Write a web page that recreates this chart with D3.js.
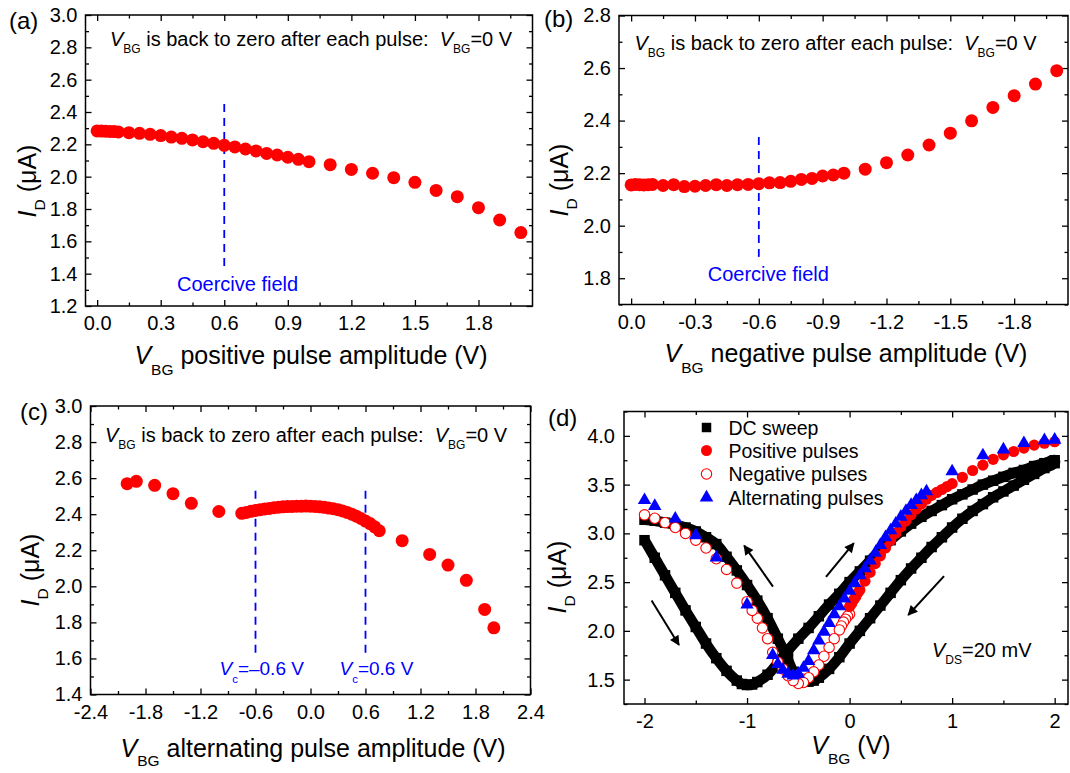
<!DOCTYPE html>
<html>
<head>
<meta charset="utf-8">
<script src="https://cdn.jsdelivr.net/npm/d3@7"></script>
<style>
  html, body { margin: 0; padding: 0; background: #fff; }
  svg { display: block; }
</style>
</head>
<body>
<script>
// ---------------- data ----------------
// (a) positive pulse amplitude sweep, V_BG returned to 0 V after each pulse
const posPulseV = [0, 0.02, 0.04, 0.06, 0.08, 0.10, 0.15, 0.20, 0.25, 0.30, 0.35, 0.40, 0.45, 0.50, 0.55, 0.60,
  0.65, 0.70, 0.75, 0.80, 0.85, 0.90, 0.95, 1.00, 1.1, 1.2, 1.3, 1.4, 1.5, 1.6, 1.7, 1.8, 1.9, 2.0];
const posPulseI = [2.283, 2.282, 2.281, 2.280, 2.279, 2.277, 2.272, 2.268, 2.262, 2.254, 2.245, 2.237, 2.227, 2.216,
  2.206, 2.194, 2.184, 2.171, 2.159, 2.144, 2.134, 2.120, 2.107, 2.093, 2.074, 2.045, 2.021, 1.994, 1.965, 1.915,
  1.876, 1.808, 1.732, 1.654];

// (b) negative pulse amplitude sweep
const negPulseV = [0, -0.02, -0.04, -0.06, -0.08, -0.10, -0.15, -0.20, -0.25, -0.30, -0.35, -0.40, -0.45, -0.50,
  -0.55, -0.60, -0.65, -0.70, -0.75, -0.80, -0.85, -0.90, -0.95, -1.00, -1.1, -1.2, -1.3, -1.4, -1.5, -1.6, -1.7,
  -1.8, -1.9, -2.0];
const negPulseI = [2.155, 2.157, 2.156, 2.155, 2.156, 2.157, 2.153, 2.156, 2.149, 2.150, 2.153, 2.156, 2.153, 2.156,
  2.157, 2.160, 2.163, 2.164, 2.169, 2.176, 2.180, 2.189, 2.193, 2.200, 2.215, 2.240, 2.269, 2.307, 2.352, 2.399,
  2.450, 2.495, 2.539, 2.590];

// (c) alternating-sign pulse amplitudes
const altPulseV = [-2.0, -1.9, -1.7, -1.5, -1.3, -1.0,
  -0.75, -0.70, -0.65, -0.60, -0.55, -0.50, -0.45, -0.40, -0.35, -0.30, -0.25, -0.20, -0.15, -0.10, -0.05, 0.00,
  0.05, 0.10, 0.15, 0.20, 0.25, 0.30, 0.35, 0.40, 0.45, 0.50, 0.55, 0.60, 0.65, 0.70, 0.75,
  1.0, 1.3, 1.5, 1.7, 1.9, 2.0];
const altPulseI = [2.569, 2.582, 2.560, 2.514, 2.460, 2.415,
  2.405, 2.410, 2.416, 2.421, 2.425, 2.429, 2.432, 2.436, 2.439, 2.441, 2.442, 2.443, 2.444, 2.444, 2.445, 2.444,
  2.443, 2.441, 2.438, 2.434, 2.430, 2.425, 2.418, 2.410, 2.400, 2.389, 2.376, 2.362, 2.348, 2.330, 2.308,
  2.253, 2.177, 2.118, 2.033, 1.872, 1.770];

// (d) transfer curves: DC sweep loop (-2 V -> 2 V -> -2 V) and pulse read-outs
const dcSweepV = [-2.00, -1.90, -1.80, -1.70, -1.60, -1.50, -1.40, -1.30, -1.20, -1.10, -1.05, -1.00, -0.95, -0.90,
  -0.80, -0.70, -0.60, -0.50, -0.40, -0.30, -0.20, -0.10, 0.00, 0.10, 0.20, 0.30, 0.40, 0.50, 0.60, 0.70, 0.80, 0.90,
  1.00, 1.10, 1.20, 1.30, 1.40, 1.50, 1.60, 1.70, 1.80, 1.90, 2.00,
  2.00, 1.90, 1.80, 1.70, 1.60, 1.50, 1.40, 1.30, 1.20, 1.10, 1.00, 0.90, 0.80, 0.70, 0.60, 0.50, 0.40, 0.30, 0.20,
  0.10, 0.00, -0.10, -0.20, -0.30, -0.35, -0.40, -0.45, -0.50, -0.55, -0.60, -0.70, -0.80, -0.90, -1.00, -1.10,
  -1.20, -1.30, -1.40, -1.50, -1.60, -1.70, -1.80, -1.90, -2.00];
const dcSweepI = [2.93, 2.75, 2.57, 2.39, 2.21, 2.04, 1.87, 1.72, 1.59, 1.49, 1.455, 1.445, 1.45, 1.475,
  1.55, 1.67, 1.80, 1.92, 2.03, 2.15, 2.27, 2.38, 2.50, 2.61, 2.72, 2.83, 2.93, 3.02, 3.10, 3.17, 3.23, 3.29,
  3.35, 3.40, 3.45, 3.50, 3.54, 3.58, 3.62, 3.65, 3.69, 3.72, 3.75,
  3.72, 3.67, 3.61, 3.55, 3.49, 3.43, 3.37, 3.30, 3.23, 3.15, 3.06, 2.96, 2.86, 2.75, 2.64, 2.52, 2.39, 2.26, 2.13,
  2.00, 1.87, 1.73, 1.61, 1.52, 1.49, 1.48, 1.48, 1.51, 1.58, 1.70, 1.92, 2.13, 2.31, 2.47, 2.62,
  2.76, 2.89, 2.96, 3.02, 3.06, 3.09, 3.11, 3.13, 3.14];
const dPosPulseI = [2.25, 2.28, 2.32, 2.35, 2.39, 2.42, 2.51, 2.60, 2.69, 2.77, 2.85, 2.93, 3.00, 3.07, 3.13, 3.19,
  3.25, 3.30, 3.35, 3.39, 3.42, 3.45, 3.48, 3.51, 3.575, 3.645, 3.70, 3.76, 3.805, 3.84, 3.875, 3.905, 3.925, 3.94];
const dNegPulseI = [2.17, 2.15, 2.12, 2.09, 2.05, 2.01, 1.92, 1.83, 1.74, 1.65, 1.58, 1.52, 1.47, 1.46, 1.49, 1.54,
  1.61, 1.68, 1.78, 1.92, 2.03, 2.13, 2.21, 2.30, 2.49, 2.63, 2.74, 2.85, 2.93, 3.00, 3.06, 3.11, 3.155, 3.19];
const dAltPulseI = [3.34, 3.28, 3.15, 2.98, 2.75, 2.27,
  1.75, 1.66, 1.60, 1.56, 1.54, 1.56, 1.62, 1.69, 1.80, 1.90, 1.99, 2.08, 2.17, 2.25, 2.33, 2.41,
  2.49, 2.57, 2.64, 2.72, 2.80, 2.88, 2.96, 3.03, 3.10, 3.17, 3.23, 3.29, 3.34, 3.39, 3.43,
  3.635, 3.80, 3.86, 3.925, 3.955, 3.96];

const legendLabels = ["DC sweep", "Positive pulses", "Negative pulses", "Alternating pulses"];

// ---------------- drawing ----------------
const FONT = '"Liberation Sans", Arial, Helvetica, sans-serif';
const RED = "#ff0000", BLUE = "#0000ff";
const W = 1070, H = 773;

const svg = d3.select("body").append("svg")
  .attr("width", W).attr("height", H)
  .attr("font-family", FONT)
  .style("white-space", "pre");

const defs = svg.append("defs");
defs.append("marker")
  .attr("id", "arrowHead")
  .attr("viewBox", "0 0 10 10")
  .attr("refX", 9).attr("refY", 5)
  .attr("markerWidth", 6.5).attr("markerHeight", 5)
  .attr("markerUnits", "strokeWidth")
  .attr("orient", "auto")
  .append("path").attr("d", "M0,0 L10,5 L0,10 Z").attr("fill", "#000");

// text with italic symbols and lowered subscripts
function richText(parent, x, y, parts, size, opts = {}) {
  const subShift = (opts.subShift != null ? opts.subShift : 0.42) * size;
  const subSize = opts.subSize || 0.6;
  const t = parent.append("text")
    .attr("x", x).attr("y", y)
    .attr("font-size", size)
    .attr("fill", opts.color || "#000")
    .attr("text-anchor", opts.anchor || "start");
  if (opts.transform) t.attr("transform", opts.transform);
  let shift = 0;
  parts.forEach(p => {
    const ts = t.append("tspan").text(p.t);
    if (p.i) ts.attr("font-style", "italic");
    const target = p.sub ? subShift : 0;
    if (target !== shift) { ts.attr("dy", target - shift); shift = target; }
    if (p.sub) ts.attr("font-size", size * subSize);
  });
  return t;
}

const fmt1 = v => (Math.abs(v) < 1e-9 ? 0 : v).toFixed(1);
const fmt0 = v => String(Math.round(v));
const stepRange = (a, b, s) => d3.range(0, Math.round((b - a) / s) + 1).map(i => +(a + i * s).toFixed(4));

function drawFrame(g, box, xs, ys, cfg) {
  const axes = [];
  axes.push(g.append("g").attr("transform", `translate(0,${box.b})`)
    .call(d3.axisBottom(xs).tickValues(cfg.xMajor).tickSize(-6).tickPadding(10).tickFormat(cfg.xFmt)));
  axes.push(g.append("g").attr("transform", `translate(0,${box.b})`)
    .call(d3.axisBottom(xs).tickValues(cfg.xMinor).tickSize(-3.5).tickFormat("")));
  axes.push(g.append("g").attr("transform", `translate(0,${box.t})`)
    .call(d3.axisTop(xs).tickValues(cfg.xMajor).tickSize(-6).tickFormat("")));
  axes.push(g.append("g").attr("transform", `translate(0,${box.t})`)
    .call(d3.axisTop(xs).tickValues(cfg.xMinor).tickSize(-3.5).tickFormat("")));
  axes.push(g.append("g").attr("transform", `translate(${box.l},0)`)
    .call(d3.axisLeft(ys).tickValues(cfg.yMajor).tickSize(-6).tickPadding(cfg.yPad || 8).tickFormat(cfg.yFmt)));
  axes.push(g.append("g").attr("transform", `translate(${box.l},0)`)
    .call(d3.axisLeft(ys).tickValues(cfg.yMinor).tickSize(-3.5).tickFormat("")));
  axes.push(g.append("g").attr("transform", `translate(${box.r},0)`)
    .call(d3.axisRight(ys).tickValues(cfg.yMajor).tickSize(-6).tickFormat("")));
  axes.push(g.append("g").attr("transform", `translate(${box.r},0)`)
    .call(d3.axisRight(ys).tickValues(cfg.yMinor).tickSize(-3.5).tickFormat("")));
  axes.forEach(a => {
    a.attr("font-family", FONT).attr("font-size", 20);
    a.select(".domain").remove();
    a.selectAll(".tick line").attr("stroke", "#000").attr("stroke-width", 1.3);
    a.selectAll(".tick text").attr("fill", "#000");
  });
  g.append("rect")
    .attr("x", box.l).attr("y", box.t)
    .attr("width", box.r - box.l).attr("height", box.b - box.t)
    .attr("fill", "none").attr("stroke", "#000").attr("stroke-width", 1.5);
}

const TITLE = 25;
const titleOpts = { anchor: "middle", subShift: 0.42, subSize: 0.62 };
const idParts = [{ t: "I", i: true }, { t: "D", sub: true }, { t: " (\u03bcA)" }];
const backToZero = [{ t: "V", i: true }, { t: "BG", sub: true }, { t: " is back to zero after each pulse:\u00a0\u00a0" },
  { t: "V", i: true }, { t: "BG", sub: true }, { t: "=0 V" }];

function dots(g, xs, ys, vx, vy, r) {
  g.append("g").selectAll("circle")
    .data(vx.map((v, i) => [v, vy[i]]))
    .join("circle")
    .attr("cx", d => xs(d[0])).attr("cy", d => ys(d[1]))
    .attr("r", r).attr("fill", RED);
}

function vDash(g, xs, ys, x, y0, y1) {
  g.append("line")
    .attr("x1", xs(x)).attr("x2", xs(x))
    .attr("y1", ys(y0)).attr("y2", ys(y1))
    .attr("stroke", BLUE).attr("stroke-width", 1.8)
    .attr("stroke-dasharray", "8,6");
}

function yTitle(g, x, y) {
  richText(g, 0, 0, idParts, TITLE,
    { anchor: "middle", transform: `translate(${x},${y}) rotate(-90)`, subShift: 0.35, subSize: 0.62 });
}

// ---- panel (a)
{
  const box = { l: 85.5, r: 532.5, t: 15, b: 306 };
  const xs = d3.scaleLinear().domain([-0.055, 2.055]).range([box.l, box.r]);
  const ys = d3.scaleLinear().domain([1.2, 3.0]).range([box.b, box.t]);
  const g = svg.append("g");
  drawFrame(g, box, xs, ys, {
    xMajor: stepRange(0, 1.8, 0.3), xMinor: stepRange(0.15, 1.95, 0.3), xFmt: fmt1,
    yMajor: stepRange(1.2, 3.0, 0.2), yMinor: stepRange(1.3, 2.9, 0.2), yFmt: fmt1
  });
  vDash(g, xs, ys, 0.6, 2.45, 1.44);
  g.append("text").attr("x", xs(0.377)).attr("y", ys(1.293))
    .attr("font-size", 20).attr("fill", BLUE).text("Coercive field");
  dots(g, xs, ys, posPulseV, posPulseI, 6.5);
  richText(g, 110, 46, backToZero, 20, { subShift: 0.35 });
  g.append("text").attr("x", 9).attr("y", 29).attr("font-size", 24).text("(a)");
  richText(g, 311, 364, [{ t: "V", i: true }, { t: "BG", sub: true }, { t: " positive pulse amplitude (V)" }], TITLE,
    titleOpts);
  yTitle(g, 36, 181);
}

// ---- panel (b)
{
  const box = { l: 619, r: 1068, t: 15.5, b: 304.5 };
  const xs = d3.scaleLinear().domain([0.057, -2.053]).range([box.l, box.r]);
  const ys = d3.scaleLinear().domain([1.7, 2.8]).range([box.b, box.t]);
  const g = svg.append("g");
  drawFrame(g, box, xs, ys, {
    xMajor: stepRange(0, -1.8, -0.3), xMinor: stepRange(-0.15, -1.95, -0.3), xFmt: fmt1,
    yMajor: stepRange(1.8, 2.8, 0.2), yMinor: stepRange(1.7, 2.7, 0.2), yFmt: fmt1
  });
  vDash(g, xs, ys, -0.6, 2.338, 1.869);
  g.append("text").attr("x", xs(-0.36)).attr("y", ys(1.789))
    .attr("font-size", 20).attr("fill", BLUE).text("Coercive field");
  dots(g, xs, ys, negPulseV, negPulseI, 6.5);
  richText(g, 634.5, 50, backToZero, 20, { subShift: 0.35 });
  g.append("text").attr("x", 544).attr("y", 27).attr("font-size", 24).text("(b)");
  richText(g, 846, 362, [{ t: "V", i: true }, { t: "BG", sub: true }, { t: " negative pulse amplitude (V)" }], TITLE,
    titleOpts);
  yTitle(g, 568, 180);
}

// ---- panel (c)
{
  const box = { l: 90.5, r: 530.5, t: 406, b: 694.5 };
  const xs = d3.scaleLinear().domain([-2.4, 2.4]).range([box.l, box.r]);
  const ys = d3.scaleLinear().domain([1.4, 3.0]).range([box.b, box.t]);
  const g = svg.append("g");
  drawFrame(g, box, xs, ys, {
    xMajor: stepRange(-2.4, 2.4, 0.6), xMinor: stepRange(-2.1, 2.1, 0.6), xFmt: fmt1,
    yMajor: stepRange(1.4, 3.0, 0.2), yMinor: stepRange(1.5, 2.9, 0.2), yFmt: fmt1
  });
  vDash(g, xs, ys, -0.6, 2.53, 1.61);
  vDash(g, xs, ys, 0.6, 2.53, 1.61);
  richText(g, 219.5, 675, [{ t: "V", i: true }, { t: "c", sub: true }, { t: "=\u20130.6 V" }], 19,
    { color: BLUE, subShift: 0.4 });
  richText(g, 339.5, 675, [{ t: "V", i: true }, { t: "c", sub: true }, { t: "=0.6 V" }], 19,
    { color: BLUE, subShift: 0.4 });
  dots(g, xs, ys, altPulseV, altPulseI, 6.5);
  richText(g, 105, 441.5, backToZero, 20, { subShift: 0.35 });
  g.append("text").attr("x", 20).attr("y", 420).attr("font-size", 24).text("(c)");
  richText(g, 313, 757, [{ t: "V", i: true }, { t: "BG", sub: true }, { t: " alternating pulse amplitude (V)" }], TITLE,
    { anchor: "middle", subShift: 0.36, subSize: 0.62 });
  yTitle(g, 39, 570);
}

// ---- panel (d)
{
  const box = { l: 624, r: 1068, t: 411.5, b: 704 };
  const xs = d3.scaleLinear().domain([-2.2, 2.13]).range([box.l, box.r]);
  const ys = d3.scaleLinear().domain([1.25, 4.25]).range([box.b, box.t]);
  const g = svg.append("g");
  drawFrame(g, box, xs, ys, {
    xMajor: [-2, -1, 0, 1, 2], xMinor: [-1.5, -0.5, 0.5, 1.5], xFmt: fmt0,
    yMajor: stepRange(1.5, 4.0, 0.5), yMinor: stepRange(1.25, 4.25, 0.5), yFmt: fmt1, yPad: 9
  });

  // DC sweep: dense square markers merge into a thick band
  const dcPts = dcSweepV.map((v, i) => [v, dcSweepI[i]]);
  g.append("path")
    .datum(dcPts)
    .attr("d", d3.line().x(d => xs(d[0])).y(d => ys(d[1])).curve(d3.curveCatmullRom.alpha(0.5)))
    .attr("fill", "none").attr("stroke", "#000").attr("stroke-width", 10.5).attr("stroke-linejoin", "round");
  g.append("g").selectAll("path")
    .data(dcPts).join("path")
    .attr("transform", d => `translate(${xs(d[0])},${ys(d[1])})`)
    .attr("d", d3.symbol().type(d3.symbolSquare).size(110))
    .attr("fill", "#000");

  // negative pulses (open circles)
  g.append("g").selectAll("circle")
    .data(negPulseV.map((v, i) => [v, dNegPulseI[i]])).join("circle")
    .attr("cx", d => xs(d[0])).attr("cy", d => ys(d[1])).attr("r", 5.2)
    .attr("fill", "#fff").attr("stroke", RED).attr("stroke-width", 1.1);
  // positive pulses
  g.append("g").selectAll("circle")
    .data(posPulseV.map((v, i) => [v, dPosPulseI[i]])).join("circle")
    .attr("cx", d => xs(d[0])).attr("cy", d => ys(d[1])).attr("r", 5.6)
    .attr("fill", RED);
  // alternating pulses
  g.append("g").selectAll("path")
    .data(altPulseV.map((v, i) => [v, dAltPulseI[i]])).join("path")
    .attr("transform", d => `translate(${xs(d[0])},${ys(d[1])})`)
    .attr("d", d3.symbol().type(d3.symbolTriangle).size(78))
    .attr("fill", BLUE);

  // sweep direction arrows
  const arrows = [
    [[-1.931, 2.312], [-1.664, 1.855]],
    [[-0.747, 2.454], [-1.028, 2.875]],
    [[-0.230, 2.553], [0.041, 2.899]],
    [[0.921, 2.561], [0.572, 2.163]]
  ];
  g.append("g").selectAll("line").data(arrows).join("line")
    .attr("x1", d => xs(d[0][0])).attr("y1", d => ys(d[0][1]))
    .attr("x2", d => xs(d[1][0])).attr("y2", d => ys(d[1][1]))
    .attr("stroke", "#000").attr("stroke-width", 2)
    .attr("marker-end", "url(#arrowHead)");

  // legend
  const lg = g.append("g");
  const ly = [427.5, 450.5, 474, 497.5];
  const lx = 706.5;
  lg.append("path").attr("transform", `translate(${lx},${ly[0]})`)
    .attr("d", d3.symbol().type(d3.symbolSquare).size(90)).attr("fill", "#000");
  lg.append("circle").attr("cx", lx).attr("cy", ly[1]).attr("r", 5.5).attr("fill", RED);
  lg.append("circle").attr("cx", lx).attr("cy", ly[2]).attr("r", 5.2)
    .attr("fill", "#fff").attr("stroke", RED).attr("stroke-width", 1.1);
  lg.append("path").attr("transform", `translate(${lx},${ly[3]})`)
    .attr("d", d3.symbol().type(d3.symbolTriangle).size(80)).attr("fill", BLUE);
  legendLabels.forEach((s, i) => {
    lg.append("text").attr("x", 728.5).attr("y", ly[i] + 7).attr("font-size", 19.5).text(s);
  });

  richText(g, 932, 656.5, [{ t: "V", i: true }, { t: "DS", sub: true }, { t: "=20 mV" }], 20, { subShift: 0.35 });
  g.append("text").attr("x", 548).attr("y", 426).attr("font-size", 24).text("(d)");
  richText(g, 851, 754, [{ t: "V", i: true }, { t: "BG", sub: true }, { t: " (V)" }], TITLE,
    { anchor: "middle", subShift: 0.38, subSize: 0.62 });
  yTitle(g, 566, 577);
}
</script>
</body>
</html>
